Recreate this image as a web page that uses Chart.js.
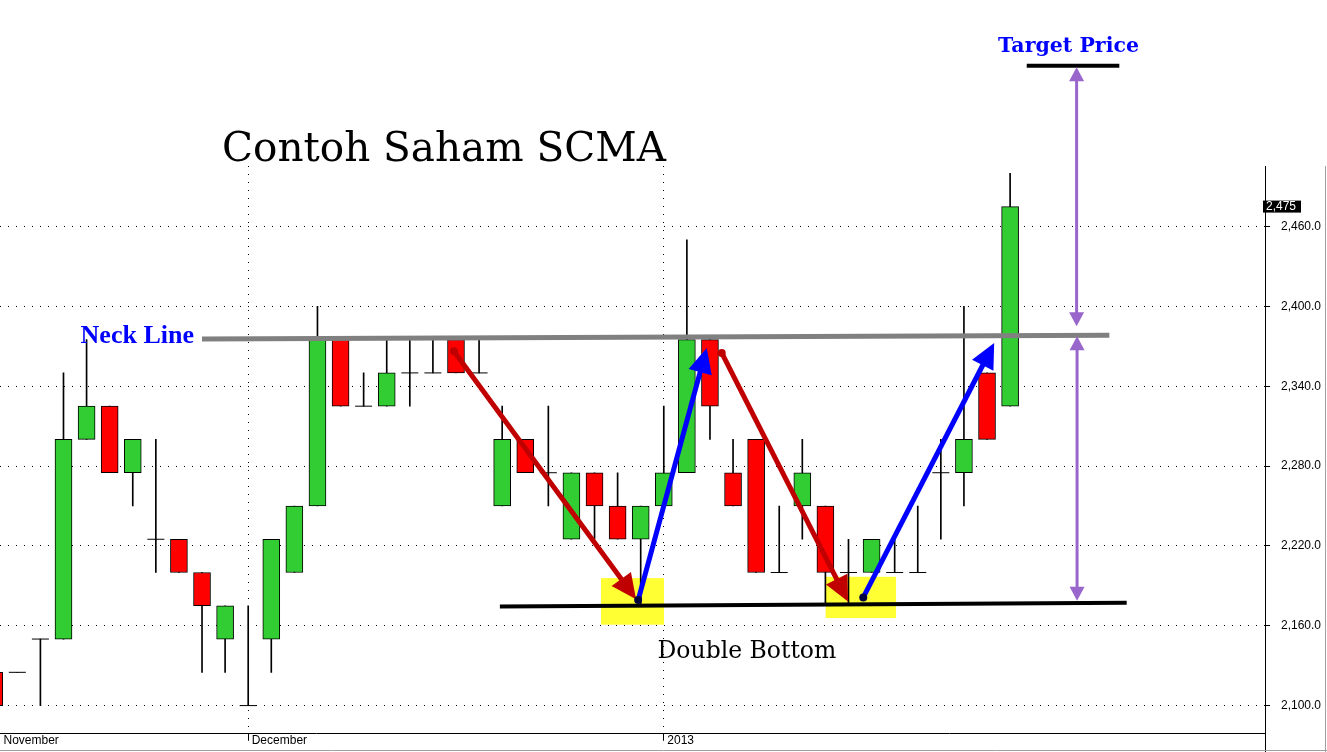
<!DOCTYPE html>
<html>
<head>
<meta charset="utf-8">
<title>Contoh Saham SCMA</title>
<script src="https://cdn.jsdelivr.net/npm/chart.js@4.4.1/dist/chart.umd.min.js"></script>
<style>
  html, body { margin: 0; padding: 0; background: #fff; overflow: hidden; }
  canvas { display: block; }
</style>
</head>
<body>
<canvas id="chart" width="1327" height="752"></canvas>
<script>
// Daily sessions (index along the time axis)
const sessions = [0,1,2,3,4,5,6,7,8,9,10,11,12,13,14,15,16,17,18,19,20,21,22,
                  23,24,25,26,27,28,29,30,31,32,33,34,35,36,37,38,39,40,41,42,43,44];
const opens  = [2125,2125,2150,2150,2300,2325,2275,2225,2225,2200,2150,2100,2150,2200,2250,
                2375,2325,2325,2350,2350,2375,2350,2250,2300,2275,2225,2275,2250,2225,2250,
                2275,2375,2275,2300,2200,2250,2250,2200,2200,2200,2200,2275,2275,2350,2325];
const highs  = [2125,2125,2150,2350,2375,2325,2300,2300,2225,2200,2175,2175,2225,2250,2400,
                2375,2350,2375,2375,2375,2375,2375,2325,2300,2325,2275,2275,2275,2250,2325,
                2450,2375,2300,2300,2250,2300,2250,2225,2225,2225,2250,2300,2400,2350,2500];
const lows   = [2100,2125,2100,2150,2300,2275,2250,2200,2200,2125,2125,2100,2125,2200,2250,
                2325,2325,2325,2325,2350,2350,2350,2250,2275,2250,2225,2225,2225,2175,2250,
                2275,2300,2250,2200,2200,2225,2175,2175,2200,2200,2200,2225,2250,2300,2325];
const closes = [2100,2125,2150,2300,2325,2275,2300,2225,2200,2175,2175,2100,2225,2250,2375,
                2325,2325,2350,2350,2350,2350,2350,2300,2275,2275,2275,2250,2225,2250,2275,
                2375,2325,2250,2200,2200,2275,2200,2200,2225,2200,2200,2275,2300,2300,2475];

// Month boundaries on the time axis and their labels
const monthStarts = [0.25, 11, 29];
const monthLabels = ['November', 'December', '2013'];

// Price axis
const priceStep = 60;
const lastPrice = 2475;

// Pattern annotations, in (session, price) coordinates
const neckLine    = [[9, 2375.5], [48.3, 2378.3]];
const supportLine = [[21.9, 2174.5], [49.05, 2177.3]];
const targetLine  = [[44.72, 2580.8], [48.73, 2580.8]];
const highlightBoxes = [[[26.28, 2195.8], [29.01, 2160.8]], [[36.01, 2196.8], [39.06, 2165.8]]];
const fallArrows  = [[[19.91, 2366.3], [27.8, 2180]], [[31.51, 2365], [36.98, 2178.3]]];
const riseArrows  = [[[27.89, 2179.3], [30.86, 2368.8]], [[37.64, 2181.3], [43.31, 2372.5]]];
const measureArrows = [[[46.88, 2579.8], [46.88, 2385]], [[46.9, 2377.5], [46.9, 2178.8]]];

const GREEN = '#32CD32', RED = '#FF0000';
const isDoji = i => opens[i] === closes[i];

const wickData = sessions.map(i => ({ x: i, y: [lows[i], highs[i]] }));
const bodySessions = sessions.filter(i => !isDoji(i));
const bodyData = bodySessions.map(i => ({ x: i, y: [opens[i], closes[i]] }));
const bodyColors = bodySessions.map(i => closes[i] > opens[i] ? GREEN : RED);
const dojiData = sessions.filter(isDoji).map(i => ({ x: i, y: closes[i] }));

function arrowHead(ctx, tip, ux, uy, len, half) {
  const bx = tip.x - ux * len, by = tip.y - uy * len;
  ctx.beginPath();
  ctx.moveTo(tip.x, tip.y);
  ctx.lineTo(bx - uy * half, by + ux * half);
  ctx.lineTo(bx + uy * half, by - ux * half);
  ctx.closePath();
  ctx.fill();
}

function arrow(ctx, a, b, opt) {
  const dx = b.x - a.x, dy = b.y - a.y, len = Math.hypot(dx, dy);
  const ux = dx / len, uy = dy / len;
  const inset = opt.head * 0.8;
  const sx = opt.both ? a.x + ux * inset : a.x, sy = opt.both ? a.y + uy * inset : a.y;
  ctx.save();
  ctx.strokeStyle = opt.color;
  ctx.fillStyle = opt.color;
  ctx.lineWidth = opt.width;
  ctx.beginPath();
  ctx.moveTo(sx, sy);
  ctx.lineTo(b.x - ux * inset, b.y - uy * inset);
  ctx.stroke();
  arrowHead(ctx, b, ux, uy, opt.head, opt.half);
  if (opt.both) arrowHead(ctx, a, -ux, -uy, opt.head, opt.half);
  if (opt.dot) {
    ctx.fillStyle = opt.dot;
    ctx.beginPath();
    ctx.arc(a.x, a.y, 4, 0, Math.PI * 2);
    ctx.fill();
  }
  ctx.restore();
}

const patternPlugin = {
  id: 'pattern',
  beforeDatasetsDraw(chart) {
    const { ctx, scales: { x, y } } = chart;
    ctx.save();
    ctx.fillStyle = '#FFFF33';
    highlightBoxes.forEach(([p, q]) => {
      const x1 = x.getPixelForValue(p[0]), y1 = y.getPixelForValue(p[1]);
      const x2 = x.getPixelForValue(q[0]), y2 = y.getPixelForValue(q[1]);
      ctx.fillRect(x1, y1, x2 - x1, y2 - y1);
    });
    ctx.restore();
  },
  afterDatasetsDraw(chart) {
    const { ctx, scales: { x, y } } = chart;
    const pt = p => ({ x: x.getPixelForValue(p[0]), y: y.getPixelForValue(p[1]) });
    const seg = (pts, color, w) => {
      const a = pt(pts[0]), b = pt(pts[1]);
      ctx.save();
      ctx.strokeStyle = color; ctx.lineWidth = w;
      ctx.beginPath(); ctx.moveTo(a.x, a.y); ctx.lineTo(b.x, b.y); ctx.stroke();
      ctx.restore();
    };
    seg(neckLine, '#808080', 5);
    seg(supportLine, '#000000', 4);
    seg(targetLine, '#000000', 4);

    measureArrows.forEach(([a, b]) =>
      arrow(ctx, pt(a), pt(b), { color: '#9966CC', width: 3, head: 14, half: 7.5, both: true }));
    fallArrows.forEach(([a, b]) =>
      arrow(ctx, pt(a), pt(b), { color: '#C00000', width: 5, head: 25, half: 12, dot: '#C00000' }));
    riseArrows.forEach(([a, b]) =>
      arrow(ctx, pt(a), pt(b), { color: '#0000FF', width: 5, head: 25, half: 12, dot: '#000040' }));

    const text = (str, p, font, color, align) => {
      const q = pt(p);
      ctx.save();
      ctx.font = font; ctx.fillStyle = color;
      ctx.textAlign = align; ctx.textBaseline = 'alphabetic';
      ctx.fillText(str, q.x, q.y);
      ctx.restore();
    };
    text('Contoh Saham SCMA', [19.48, 2509.5], "40.5px 'DejaVu Serif'", '#000', 'center');
    text('Neck Line', [8.65, 2372.5], "bold 26px 'Liberation Serif'", '#0000FF', 'right');
    text('Target Price', [46.53, 2590.8], "bold 20.5px 'DejaVu Serif'", '#0000FF', 'center');
    text('Double Bottom', [32.6, 2135.8], "23.5px 'DejaVu Serif'", '#000', 'center');
  },
  afterDraw(chart) {
    const { ctx, chartArea, scales: { y } } = chart;
    ctx.save();
    // frame lines around the price and date axes
    ctx.strokeStyle = '#000'; ctx.lineWidth = 1;
    ctx.beginPath();
    ctx.moveTo(Math.round(chartArea.right) + 0.5, chartArea.bottom);
    ctx.lineTo(Math.round(chartArea.right) + 0.5, chart.height);
    ctx.stroke();
    ctx.strokeStyle = '#A0A0A0';
    ctx.beginPath();
    ctx.moveTo(0, chart.height - 1.5); ctx.lineTo(chart.width, chart.height - 1.5);
    ctx.moveTo(chart.width - 1.5, chartArea.top); ctx.lineTo(chart.width - 1.5, chart.height);
    ctx.stroke();
    // last price tag
    const py = y.getPixelForValue(lastPrice);
    ctx.fillStyle = '#000';
    ctx.fillRect(chartArea.right - 2, py - 6, 38, 12);
    ctx.fillStyle = '#fff';
    ctx.font = "12px 'Liberation Sans', Arial";
    ctx.textAlign = 'left'; ctx.textBaseline = 'middle';
    ctx.fillText(lastPrice.toLocaleString('en-US'), chartArea.right + 1, py + 0.5);
    ctx.restore();
  }
};

const axisFont = { family: "'Liberation Sans', Arial", size: 12 };

new Chart(document.getElementById('chart'), {
  type: 'bar',
  data: {
    datasets: [
      {
        type: 'bar', data: bodyData, order: 1, grouped: false,
        backgroundColor: bodyColors, borderColor: '#000', borderWidth: 1,
        borderSkipped: false, barThickness: 17
      },
      {
        type: 'line', data: dojiData, order: 2, showLine: false,
        pointStyle: 'line', pointRadius: 8.5, pointBorderWidth: 1,
        pointBorderColor: '#000', pointBackgroundColor: '#000'
      },
      {
        type: 'bar', data: wickData, order: 3, grouped: false,
        backgroundColor: '#000', borderWidth: 0, barThickness: 1
      }
    ]
  },
  options: {
    responsive: false,
    animation: false,
    events: [],
    devicePixelRatio: 1,
    layout: { autoPadding: false, padding: { top: 166, left: 0, right: 0, bottom: 0 } },
    plugins: { legend: { display: false }, tooltip: { enabled: false } },
    scales: {
      x: {
        type: 'linear', min: 0.25, max: 55.04, offset: false, bounds: 'ticks',
        afterBuildTicks(scale) { scale.ticks = monthStarts.map(v => ({ value: v })); },
        afterFit(scale) { scale.height = 17; },
        ticks: {
          autoSkip: false, maxRotation: 0, align: 'start', labelOffset: 3.5, padding: -7,
          color: '#000', font: axisFont,
          callback: (v, i) => monthLabels[i]
        },
        grid: {
          offset: false,
          color: c => c.index === 0 ? 'rgba(0,0,0,0)' : '#000',
          tickColor: c => c.index === 0 ? 'rgba(0,0,0,0)' : '#000',
          lineWidth: 1, tickLength: 7, tickBorderDash: []
        },
        border: { display: true, color: '#000', width: 1, dash: [1, 7] }
      },
      y: {
        type: 'linear', position: 'right', min: 2078.8, max: 2505.5,
        afterFit(scale) { scale.width = 62; },
        ticks: {
          stepSize: priceStep, includeBounds: false, padding: 11,
          color: '#000', font: axisFont,
          callback: v => v.toLocaleString('en-US', { minimumFractionDigits: 1, maximumFractionDigits: 1 })
        },
        grid: { color: '#000', lineWidth: 1, tickLength: 5, tickColor: '#000', tickBorderDash: [] },
        border: { display: true, color: '#000', width: 1, dash: [1, 7] }
      }
    }
  },
  plugins: [patternPlugin]
});
</script>
</body>
</html>
